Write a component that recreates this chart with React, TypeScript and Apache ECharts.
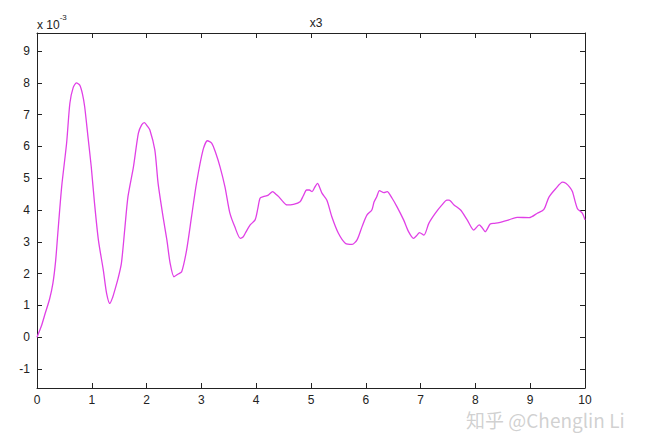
import React, { useEffect, useRef } from "react";
import * as echarts from "echarts";

const xValues = [
  0.0, 0.08, 0.15, 0.23, 0.29, 0.34, 0.38, 0.45, 0.54, 0.6, 0.66, 0.72, 0.78, 0.83, 0.87, 0.93, 0.99,
  1.05, 1.12, 1.21, 1.27, 1.33, 1.38, 1.42, 1.48, 1.54, 1.6, 1.66, 1.76, 1.85, 1.91, 1.96, 2.01,
  2.06, 2.15, 2.21, 2.3, 2.37, 2.43, 2.5, 2.57, 2.64, 2.73, 2.82, 2.91, 3.03, 3.11, 3.19, 3.26,
  3.34, 3.43, 3.52, 3.61, 3.71, 3.76, 3.8, 3.89, 3.98, 4.03, 4.07, 4.13, 4.22, 4.3, 4.36, 4.41,
  4.48, 4.56, 4.68, 4.8, 4.86, 4.92, 4.97, 5.02, 5.07, 5.12, 5.16, 5.2, 5.29, 5.38, 5.5, 5.63,
  5.75, 5.84, 5.93, 6.02, 6.11, 6.15, 6.2, 6.25, 6.33, 6.39, 6.48, 6.57, 6.69, 6.78, 6.87, 6.93,
  6.98, 7.06, 7.15, 7.27, 7.39, 7.48, 7.52, 7.61, 7.73, 7.85, 7.97, 8.07, 8.12, 8.18, 8.27, 8.35,
  8.43, 8.61, 8.76, 8.98, 9.13, 9.25, 9.34, 9.46, 9.59, 9.65, 9.72, 9.77, 9.86, 9.95, 10.0,
];

const yValues = [
  0.0, 0.35, 0.75, 1.2, 1.69, 2.4, 3.27, 4.73, 6.1, 7.36, 7.85, 8.0, 7.93, 7.65, 7.25, 6.31, 5.36,
  4.21, 3.06, 2.11, 1.38, 1.06, 1.25, 1.48, 1.85, 2.32, 3.37, 4.42, 5.36, 6.42, 6.68, 6.75, 6.65,
  6.52, 5.89, 4.84, 3.79, 3.06, 2.32, 1.9, 1.98, 2.06, 2.74, 3.79, 4.84, 5.89, 6.18, 6.1, 5.8,
  5.36, 4.73, 3.9, 3.47, 3.11, 3.15, 3.27, 3.53, 3.69, 4.05, 4.37, 4.42, 4.47, 4.58, 4.5, 4.42,
  4.28, 4.16, 4.18, 4.26, 4.45, 4.63, 4.63, 4.58, 4.72, 4.84, 4.7, 4.53, 4.31, 3.79, 3.27, 2.95,
  2.92, 3.06, 3.47, 3.84, 4.0, 4.25, 4.42, 4.61, 4.55, 4.58, 4.37, 4.1, 3.69, 3.32, 3.11, 3.2,
  3.29, 3.21, 3.58, 3.9, 4.16, 4.31, 4.31, 4.16, 4.0, 3.69, 3.37, 3.53, 3.45, 3.32, 3.56, 3.58,
  3.6, 3.69, 3.77, 3.76, 3.9, 4.02, 4.4, 4.66, 4.88, 4.84, 4.72, 4.58, 4.05, 3.9, 3.69,
];

const yTicks = [-1, 0, 1, 2, 3, 4, 5, 6, 7, 8, 9];
const titleText = "x3";
const scaleText = "x 10";
const scaleExp = "-3";
const watermark = "知乎 @Chenglin Li";

export default function App() {
  const ref = useRef<HTMLDivElement>(null);

  useEffect(() => {
    if (!ref.current) return;
    const chart = echarts.init(ref.current, undefined, { renderer: "svg" });
    const font = "'Liberation Sans', Arial, sans-serif";
    const axisLine = { show: true, onZero: false, lineStyle: { color: "#222", width: 1 } };
    const tick = { show: true, inside: true, length: 5, lineStyle: { color: "#222", width: 1 } };
    const data = xValues.map((x, i) => [x, yValues[i]]);

    chart.setOption({
      animation: false,
      backgroundColor: "#ffffff",
      grid: { left: 37, right: 61, top: 33, bottom: 47, containLabel: false },
      xAxis: [
        {
          type: "value",
          min: 0,
          max: 10,
          interval: 1,
          position: "bottom",
          axisLine,
          axisTick: tick,
          splitLine: { show: false },
          axisLabel: { color: "#222", fontSize: 12, fontFamily: font, margin: 6 },
        },
        {
          type: "value",
          min: 0,
          max: 10,
          interval: 1,
          position: "top",
          axisLine,
          axisTick: tick,
          splitLine: { show: false },
          axisLabel: { show: false },
        },
      ],
      yAxis: [
        {
          type: "value",
          min: -1.6,
          max: 9.57,
          position: "left",
          axisLine,
          axisTick: { ...tick, customValues: yTicks },
          splitLine: { show: false },
          axisLabel: {
            customValues: yTicks,
            color: "#222",
            fontSize: 12,
            fontFamily: font,
            margin: 7,
          },
        },
        {
          type: "value",
          min: -1.6,
          max: 9.57,
          position: "right",
          axisLine,
          axisTick: { ...tick, customValues: yTicks },
          splitLine: { show: false },
          axisLabel: { show: false, customValues: yTicks },
        },
      ],
      title: {
        text: titleText,
        left: 311,
        textAlign: "center",
        top: 12,
        textStyle: { fontSize: 12, fontWeight: "normal", color: "#222", fontFamily: font },
      },
      graphic: [
        {
          type: "text",
          left: 37,
          top: 13,
          style: {
            text: "{a|" + scaleText + "}{b|" + scaleExp + "}",
            rich: {
              a: { fontSize: 12, fontFamily: font, fill: "#222", padding: [6, 0, 0, 0] },
              b: { fontSize: 8, fontFamily: font, fill: "#222", verticalAlign: "top" },
            },
          },
        },
        {
          type: "text",
          left: 466,
          top: 410,
          style: {
            text: watermark,
            fontSize: 19,
            fontFamily: "'Noto Sans CJK SC', 'Liberation Sans', sans-serif",
            fill: "rgba(170,170,170,0.55)",
          },
        },
      ],
      series: [
        {
          type: "line",
          data,
          xAxisIndex: 0,
          yAxisIndex: 0,
          smooth: 0.25,
          showSymbol: false,
          symbol: "none",
          lineStyle: { color: "#e040e6", width: 1.3 },
        },
      ],
    });

    return () => chart.dispose();
  }, []);

  return (
    <div
      ref={ref}
      style={{ position: "fixed", left: 0, top: 0, width: 646, height: 435, background: "#fff" }}
    />
  );
}
